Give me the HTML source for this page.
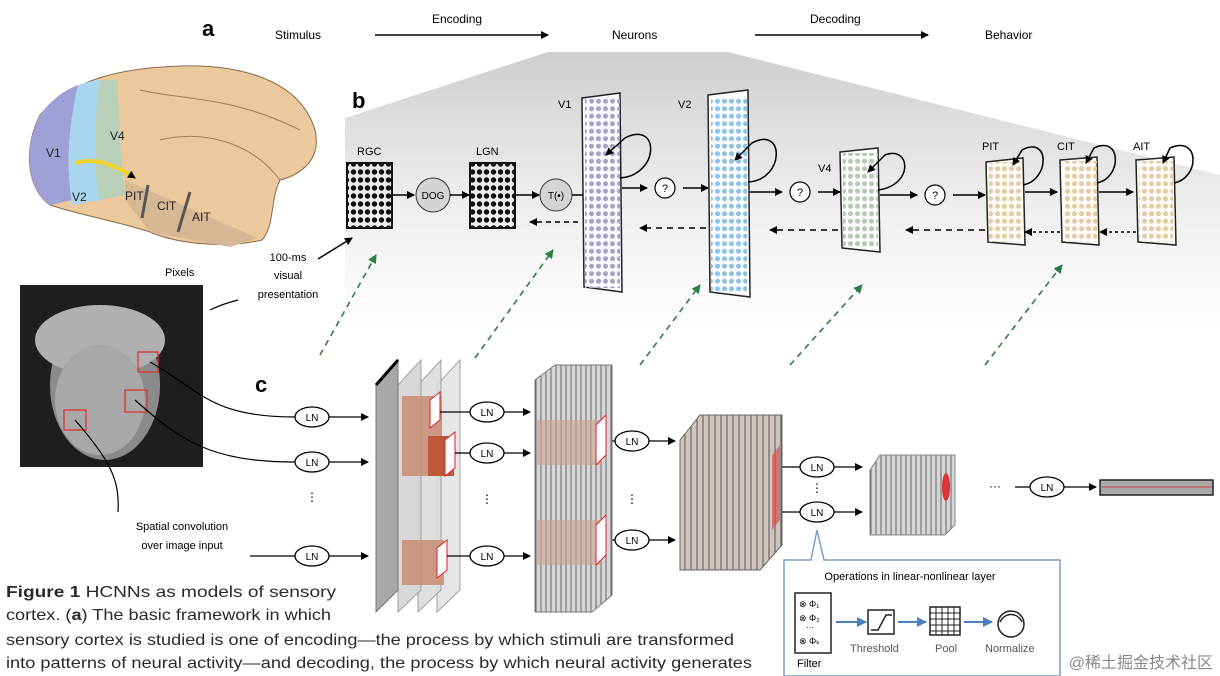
<!DOCTYPE html>
<html><head><meta charset="utf-8"><style>
html,body{margin:0;padding:0;background:#fff;}
svg{display:block;font-family:"Liberation Sans",Arial,sans-serif;}
</style></head><body>
<svg width="1220" height="676" viewBox="0 0 1220 676" xmlns="http://www.w3.org/2000/svg">
<defs>
<linearGradient id="wedge" x1="0" y1="0" x2="0" y2="1">
<stop offset="0" stop-color="#cfcfcf"/><stop offset="0.5" stop-color="#ececec"/><stop offset="1" stop-color="#ffffff"/></linearGradient>
<pattern id="dk" width="7" height="8" patternUnits="userSpaceOnUse"><circle cx="3.5" cy="4" r="2.7" fill="#111"/></pattern>
<pattern id="pv1" width="7" height="7.5" patternUnits="userSpaceOnUse"><circle cx="3.5" cy="3.7" r="2.5" fill="#a7a1cf"/></pattern>
<pattern id="pv2" width="7" height="7.5" patternUnits="userSpaceOnUse"><circle cx="3.5" cy="3.7" r="2.5" fill="#8cc3e6"/></pattern>
<pattern id="pv4" width="7" height="7.5" patternUnits="userSpaceOnUse"><circle cx="3.5" cy="3.7" r="2.5" fill="#b5c9b3"/></pattern>
<pattern id="pit" width="7" height="7.5" patternUnits="userSpaceOnUse"><circle cx="3.5" cy="3.7" r="2.5" fill="#e2cba6"/></pattern>
<pattern id="str" width="5" height="10" patternUnits="userSpaceOnUse"><rect width="5" height="10" fill="#d6d6d6"/><line x1="1" y1="0" x2="1" y2="10" stroke="#666" stroke-width="1"/></pattern>
<pattern id="str2" width="6" height="10" patternUnits="userSpaceOnUse"><rect width="6" height="10" fill="#cfc4c0"/><line x1="1" y1="0" x2="1" y2="10" stroke="#555" stroke-width="1"/></pattern>
<marker id="ah" markerWidth="8" markerHeight="8" refX="7" refY="4" orient="auto" markerUnits="userSpaceOnUse"><path d="M0,0 L8,4 L0,8 z" fill="#000"/></marker>
<marker id="ahg" markerWidth="9" markerHeight="9" refX="8" refY="4.5" orient="auto" markerUnits="userSpaceOnUse"><path d="M0,0 L9,4.5 L0,9 z" fill="#2e7d45"/></marker>
<marker id="ahb" markerWidth="10" markerHeight="10" refX="9" refY="5" orient="auto" markerUnits="userSpaceOnUse"><path d="M0,0 L10,5 L0,10 z" fill="#4a7fc0"/></marker>
</defs>

<text x="202" y="36" font-size="22" font-weight="bold">a</text>
<text x="275" y="39" font-size="12">Stimulus</text>
<text x="432" y="23" font-size="12">Encoding</text>
<line x1="375" y1="35" x2="548" y2="35" stroke="#000" stroke-width="1.5" marker-end="url(#ah)"/>
<text x="612" y="39" font-size="12">Neurons</text>
<text x="810" y="23" font-size="12">Decoding</text>
<line x1="755" y1="35" x2="928" y2="35" stroke="#000" stroke-width="1.5" marker-end="url(#ah)"/>
<text x="985" y="39" font-size="12">Behavior</text>

<polygon points="548,52 728,52 1220,175 1220,330 345,330 345,118" fill="url(#wedge)"/>

<path d="M40,115 C70,80 120,68 180,66 C240,64 300,80 315,130 C322,160 300,175 280,180 C270,200 275,225 262,240 C230,248 180,245 150,232 C120,222 80,215 50,205 C28,190 22,150 40,115 z" fill="#ecc99c" stroke="#8a6a48" stroke-width="1"/>
<path d="M40,115 C55,95 70,88 78,85 C70,120 65,160 72,200 L50,205 C28,190 22,150 40,115 z" fill="#9fa0d6"/>
<path d="M78,85 C92,80 100,80 100,80 C95,120 92,160 100,200 L72,205 C65,160 70,120 78,85 z" fill="#a9d6ef"/>
<path d="M100,80 L118,80 C118,110 120,150 125,195 L100,200 C92,160 95,120 100,80 z" fill="#b8d0b8"/>
<path d="M125,180 L258,238 L230,247 L150,232 L125,200 z" fill="#d7b894"/>
<line x1="148" y1="185" x2="142" y2="218" stroke="#555" stroke-width="3"/>
<line x1="190" y1="192" x2="178" y2="232" stroke="#555" stroke-width="3"/>
<path d="M140,90 C180,100 230,95 300,130 M160,140 C200,130 250,140 280,180" stroke="#a07d58" fill="none"/>
<path d="M75,163 C95,157 115,165 135,178" stroke="#f2d22c" stroke-width="4" fill="none" marker-end="url(#ah)"/>
<text x="46" y="157" font-size="12" fill="#222">V1</text>
<text x="72" y="201" font-size="12" fill="#222">V2</text>
<text x="110" y="140" font-size="12" fill="#222">V4</text>
<text x="125" y="200" font-size="12" fill="#222">PIT</text>
<text x="157" y="210" font-size="12" fill="#222">CIT</text>
<text x="192" y="221" font-size="12" fill="#222">AIT</text>

<text x="352" y="108" font-size="22" font-weight="bold">b</text>
<text x="357" y="155" font-size="11">RGC</text>
<rect x="347" y="163" width="45" height="65" fill="url(#dk)" stroke="#111" stroke-width="2"/>
<line x1="392" y1="195" x2="414" y2="195" stroke="#000" stroke-width="1.5" marker-end="url(#ah)"/>
<circle cx="433" cy="195" r="17" fill="#d4d4d4" stroke="#333"/><text x="433" y="199" font-size="10" text-anchor="middle">DOG</text>
<line x1="450" y1="195" x2="469" y2="195" stroke="#000" stroke-width="1.5" marker-end="url(#ah)"/>
<text x="476" y="155" font-size="11">LGN</text>
<rect x="470" y="163" width="45" height="65" fill="url(#dk)" stroke="#111" stroke-width="2"/>
<line x1="515" y1="195" x2="539" y2="195" stroke="#000" stroke-width="1.5" marker-end="url(#ah)"/>
<circle cx="556" cy="195" r="16" fill="#d4d4d4" stroke="#333"/><text x="556" y="199" font-size="10" text-anchor="middle">T(•)</text>
<line x1="572" y1="195" x2="596" y2="195" stroke="#000" stroke-width="1.5" marker-end="url(#ah)"/>
<line x1="578" y1="222" x2="530" y2="222" stroke="#000" stroke-width="1.5" stroke-dasharray="5,4" marker-end="url(#ah)"/>

<text x="558" y="108" font-size="11">V1</text>
<polygon points="582,98 620,93 622,292 584,287" fill="#fbfbfd" stroke="#222" stroke-width="1.5"/>
<rect x="585" y="98" width="35" height="190" fill="url(#pv1)"/>
<text x="678" y="108" font-size="11">V2</text>
<polygon points="708,95 748,90 750,297 710,292" fill="#fbfdff" stroke="#222" stroke-width="1.5"/>
<rect x="711" y="96" width="36" height="196" fill="url(#pv2)"/>
<text x="818" y="172" font-size="11">V4</text>
<polygon points="840,152 878,148 880,252 842,248" fill="#fbfcfb" stroke="#222" stroke-width="1.5"/>
<rect x="843" y="153" width="35" height="95" fill="url(#pv4)"/>
<text x="982" y="150" font-size="11">PIT</text>
<polygon points="986,162 1023,158 1025,245 988,242" fill="#fffcf7" stroke="#222" stroke-width="1.5"/>
<rect x="989" y="162" width="34" height="80" fill="url(#pit)"/>
<text x="1057" y="150" font-size="11">CIT</text>
<polygon points="1060,160 1097,157 1099,245 1062,242" fill="#fffcf7" stroke="#222" stroke-width="1.5"/>
<rect x="1063" y="161" width="34" height="81" fill="url(#pit)"/>
<text x="1133" y="150" font-size="11">AIT</text>
<polygon points="1136,160 1174,157 1176,245 1138,242" fill="#fffcf7" stroke="#222" stroke-width="1.5"/>
<rect x="1139" y="161" width="34" height="81" fill="url(#pit)"/>
<g fill="none" stroke="#000" stroke-width="1.5">
<path d="M620,178 C660,175 660,120 625,138 L606,155" marker-end="url(#ah)"/>
<path d="M748,182 C785,180 785,125 752,143 L735,160" marker-end="url(#ah)"/>
<path d="M878,190 C915,185 910,145 885,155 L868,172" marker-end="url(#ah)"/>
<path d="M1023,185 C1050,180 1050,135 1022,150 L1013,165" marker-end="url(#ah)"/>
<path d="M1097,183 C1122,178 1122,135 1094,148 L1086,163" marker-end="url(#ah)"/>
<path d="M1174,183 C1200,178 1200,135 1170,148 L1163,163" marker-end="url(#ah)"/>
</g>
<g stroke="#000" stroke-width="1.5">
<line x1="622" y1="188" x2="647" y2="188" marker-end="url(#ah)"/>
<line x1="683" y1="188" x2="708" y2="188" marker-end="url(#ah)"/>
<line x1="750" y1="192" x2="782" y2="192" marker-end="url(#ah)"/>
<line x1="818" y1="192" x2="840" y2="192" marker-end="url(#ah)"/>
<line x1="880" y1="195" x2="917" y2="195" marker-end="url(#ah)"/>
<line x1="953" y1="195" x2="985" y2="195" marker-end="url(#ah)"/>
<line x1="1025" y1="192" x2="1057" y2="192" marker-end="url(#ah)"/>
<line x1="1099" y1="192" x2="1133" y2="192" marker-end="url(#ah)"/>
</g>
<g fill="#fff" stroke="#000" stroke-width="1.2">
<circle cx="665" cy="188" r="10"/><circle cx="800" cy="192" r="10"/><circle cx="935" cy="195" r="10"/>
</g>
<g font-size="11" text-anchor="middle"><text x="665" y="192">?</text><text x="800" y="196">?</text><text x="935" y="199">?</text></g>
<g stroke="#000" stroke-width="1.5" stroke-dasharray="6,5">
<line x1="706" y1="228" x2="640" y2="228" marker-end="url(#ah)"/>
<line x1="838" y1="230" x2="770" y2="230" marker-end="url(#ah)"/>
<line x1="985" y1="230" x2="906" y2="230" marker-end="url(#ah)"/>
<line x1="1060" y1="232" x2="1025" y2="232" stroke-dasharray="3,3" marker-end="url(#ah)"/>
<line x1="1136" y1="232" x2="1100" y2="232" stroke-dasharray="3,3" marker-end="url(#ah)"/>
</g>
<g stroke="#2e7d45" stroke-width="1.6" stroke-dasharray="6,5">
<line x1="320" y1="355" x2="376" y2="255" marker-end="url(#ahg)"/>
<line x1="475" y1="358" x2="553" y2="250" marker-end="url(#ahg)"/>
<line x1="640" y1="365" x2="700" y2="285" marker-end="url(#ahg)"/>
<line x1="790" y1="365" x2="862" y2="285" marker-end="url(#ahg)"/>
<line x1="985" y1="365" x2="1062" y2="265" marker-end="url(#ahg)"/>
</g>

<text x="288" y="261" font-size="11" text-anchor="middle">100-ms</text>
<text x="288" y="279" font-size="11" text-anchor="middle">visual</text>
<text x="288" y="298" font-size="11" text-anchor="middle">presentation</text>
<line x1="318" y1="259" x2="352" y2="238" stroke="#000" stroke-width="1.5" marker-end="url(#ah)"/>
<text x="165" y="276" font-size="11">Pixels</text>
<path d="M210,310 C220,305 230,302 238,300" stroke="#000" fill="none" stroke-width="1.2"/>
<rect x="20" y="285" width="183" height="182" fill="#1e1e1e"/>
<ellipse cx="105" cy="385" rx="55" ry="75" fill="#8a8a8a"/>
<ellipse cx="100" cy="340" rx="65" ry="35" fill="#b0b0b0"/>
<ellipse cx="100" cy="400" rx="45" ry="55" fill="#a8a8a8"/>
<rect x="138" y="352" width="20" height="20" fill="none" stroke="#d33" stroke-width="1.3"/>
<rect x="125" y="390" width="22" height="22" fill="none" stroke="#d33" stroke-width="1.3"/>
<rect x="64" y="410" width="22" height="20" fill="none" stroke="#d33" stroke-width="1.3"/>
<text x="255" y="392" font-size="22" font-weight="bold">c</text>
<g fill="none" stroke="#000" stroke-width="1.2">
<path d="M150,362 C200,390 210,417 295,417"/>
<path d="M135,400 C180,440 210,462 295,462"/>
<path d="M75,420 C110,460 120,480 118,512"/>
</g>
<text x="182" y="530" font-size="11" text-anchor="middle">Spatial convolution</text>
<text x="182" y="549" font-size="11" text-anchor="middle">over image input</text>
<line x1="250" y1="556" x2="295" y2="556" stroke="#000" stroke-width="1.2"/>
<text x="312" y="501" font-size="12" text-anchor="middle">⋮</text>

<polygon points="437,385 460,360 460,590 437,612" fill="#e4e4e4" stroke="#999" opacity="0.9"/>
<polygon points="418,385 441,360 441,590 418,612" fill="#dcdcdc" stroke="#999" opacity="0.9"/>
<polygon points="398,385 421,360 421,590 398,612" fill="#d4d4d4" stroke="#999" opacity="0.9"/>
<polygon points="376,385 398,360 398,590 376,612" fill="#a8a8a8" stroke="#777"/>
<line x1="376" y1="385" x2="398" y2="360" stroke="#000" stroke-width="3"/>
<rect x="402" y="396" width="40" height="80" fill="#c9907a" opacity="0.9"/>
<rect x="428" y="436" width="26" height="40" fill="#c0563a"/>
<rect x="402" y="540" width="42" height="45" fill="#c9907a" opacity="0.9"/>
<polygon points="430,400 440,392 440,420 430,428" fill="#fff" stroke="#d22"/>
<polygon points="445,440 455,432 455,468 445,476" fill="#fff" stroke="#d22"/>
<polygon points="437,548 447,540 447,570 437,578" fill="#fff" stroke="#d22"/>
<g stroke="#000" stroke-width="1.3">
<line x1="329" y1="417" x2="368" y2="417" marker-end="url(#ah)"/>
<line x1="329" y1="462" x2="368" y2="462" marker-end="url(#ah)"/>
<line x1="329" y1="556" x2="368" y2="556" marker-end="url(#ah)"/>
<line x1="440" y1="412" x2="470" y2="412"/><line x1="504" y1="412" x2="530" y2="412" marker-end="url(#ah)"/>
<line x1="455" y1="453" x2="470" y2="453"/><line x1="504" y1="453" x2="530" y2="453" marker-end="url(#ah)"/>
<line x1="447" y1="556" x2="470" y2="556"/><line x1="504" y1="556" x2="530" y2="556" marker-end="url(#ah)"/>
<line x1="600" y1="441" x2="615" y2="441"/><line x1="649" y1="441" x2="675" y2="441" marker-end="url(#ah)"/>
<line x1="600" y1="540" x2="615" y2="540"/><line x1="649" y1="540" x2="675" y2="540" marker-end="url(#ah)"/>
<line x1="780" y1="467" x2="800" y2="467"/><line x1="834" y1="467" x2="862" y2="467" marker-end="url(#ah)"/>
<line x1="780" y1="512" x2="800" y2="512"/><line x1="834" y1="512" x2="862" y2="512" marker-end="url(#ah)"/>
<line x1="1015" y1="487" x2="1030" y2="487"/><line x1="1064" y1="487" x2="1096" y2="487" marker-end="url(#ah)"/>
</g>
<g fill="#fff" stroke="#000" stroke-width="1.3">
<ellipse cx="312" cy="417" rx="17" ry="10"/><ellipse cx="312" cy="462" rx="17" ry="10"/><ellipse cx="312" cy="556" rx="17" ry="10"/>
<ellipse cx="487" cy="412" rx="17" ry="10"/><ellipse cx="487" cy="453" rx="17" ry="10"/><ellipse cx="487" cy="556" rx="17" ry="10"/>
<ellipse cx="632" cy="441" rx="17" ry="10"/><ellipse cx="632" cy="540" rx="17" ry="10"/>
<ellipse cx="817" cy="467" rx="17" ry="10"/><ellipse cx="817" cy="512" rx="17" ry="10"/>
<ellipse cx="1047" cy="487" rx="17" ry="10"/>
</g>
<g font-size="10" text-anchor="middle">
<text x="312" y="421">LN</text><text x="312" y="466">LN</text><text x="312" y="560">LN</text>
<text x="487" y="416">LN</text><text x="487" y="457">LN</text><text x="487" y="560">LN</text>
<text x="632" y="445">LN</text><text x="632" y="544">LN</text>
<text x="817" y="471">LN</text><text x="817" y="516">LN</text><text x="1047" y="491">LN</text>
</g>
<g font-size="12" text-anchor="middle"><text x="487" y="503">⋮</text><text x="632" y="503">⋮</text><text x="817" y="492">⋮</text><text x="995" y="490">···</text></g>

<polygon points="535,380 555,365 612,365 612,595 592,612 535,612" fill="url(#str)" stroke="#777"/>
<rect x="537" y="420" width="65" height="45" fill="#c8a090" opacity="0.6"/>
<rect x="537" y="520" width="65" height="45" fill="#c8a090" opacity="0.6"/>
<polygon points="596,425 606,415 606,455 596,465" fill="#fff" stroke="#d22"/>
<polygon points="596,525 606,515 606,555 596,565" fill="#fff" stroke="#d22"/>
<polygon points="680,440 700,415 782,415 782,545 760,570 680,570" fill="url(#str2)" stroke="#666"/>
<polygon points="772,455 780,445 780,520 772,530" fill="#d95050" opacity="0.7"/>
<polygon points="870,470 880,455 955,455 955,525 945,535 870,535" fill="url(#str)" stroke="#888"/>
<ellipse cx="946" cy="487" rx="4" ry="14" fill="#d33"/>
<rect x="1100" y="480" width="113" height="15" fill="#aaa" stroke="#222" stroke-width="1.5"/>
<line x1="1101" y1="487" x2="1212" y2="487" stroke="#c44" stroke-width="1"/>

<path d="M784,560 L811,560 L817,530 L824,560 L1060,560 L1060,676 L784,676 z" fill="#fff" stroke="#7a9cc8" stroke-width="1.5"/>
<text x="910" y="580" font-size="11" text-anchor="middle">Operations in linear-nonlinear layer</text>
<rect x="795" y="593" width="36" height="60" fill="#fff" stroke="#222" stroke-width="1.5"/>
<text x="799" y="607" font-size="9">⊗ Φ₁</text><text x="799" y="621" font-size="9">⊗ Φ₂</text><text x="806" y="630" font-size="8">···</text><text x="799" y="644" font-size="9">⊗ Φₖ</text>
<text x="797" y="667" font-size="11">Filter</text>
<line x1="836" y1="622" x2="866" y2="622" stroke="#4a7fc0" stroke-width="2" marker-end="url(#ahb)"/>
<rect x="868" y="610" width="26" height="24" fill="#fff" stroke="#222" stroke-width="1.5"/>
<path d="M871,630 L878,630 L886,615 L892,615" stroke="#222" fill="none" stroke-width="1.5"/>
<line x1="898" y1="622" x2="926" y2="622" stroke="#4a7fc0" stroke-width="2" marker-end="url(#ahb)"/>
<rect x="930" y="607" width="30" height="28" fill="#fff" stroke="#222" stroke-width="1.5"/>
<g stroke="#222" stroke-width="1"><line x1="936" y1="607" x2="936" y2="635"/><line x1="942" y1="607" x2="942" y2="635"/><line x1="948" y1="607" x2="948" y2="635"/><line x1="954" y1="607" x2="954" y2="635"/><line x1="930" y1="613" x2="960" y2="613"/><line x1="930" y1="619" x2="960" y2="619"/><line x1="930" y1="625" x2="960" y2="625"/><line x1="930" y1="631" x2="960" y2="631"/></g>
<line x1="964" y1="622" x2="992" y2="622" stroke="#4a7fc0" stroke-width="2" marker-end="url(#ahb)"/>
<circle cx="1011" cy="624" r="13" fill="#fff" stroke="#222" stroke-width="1.5"/>
<path d="M1000,622 C1005,612 1017,612 1022,622" stroke="#222" fill="none" stroke-width="1.5"/>
<text x="850" y="652" font-size="11" fill="#555">Threshold</text>
<text x="935" y="652" font-size="11" fill="#555">Pool</text>
<text x="985" y="652" font-size="11" fill="#555">Normalize</text>

<g font-size="16" fill="#2a2a2a">
<text x="6" y="597" textLength="330" lengthAdjust="spacingAndGlyphs"><tspan font-weight="bold">Figure 1</tspan>  HCNNs as models of sensory</text>
<text x="6" y="620" textLength="325" lengthAdjust="spacingAndGlyphs">cortex. (<tspan font-weight="bold">a</tspan>) The basic framework in which</text>
<text x="6" y="645" textLength="728" lengthAdjust="spacingAndGlyphs">sensory cortex is studied is one of encoding—the process by which stimuli are transformed</text>
<text x="6" y="668" textLength="746" lengthAdjust="spacingAndGlyphs">into patterns of neural activity—and decoding, the process by which neural activity generates</text>
</g>
<text x="1213" y="668" font-size="16" fill="#888" text-anchor="end" font-family="'Liberation Sans','Noto Sans CJK SC',sans-serif">@稀土掘金技术社区</text>
</svg>
</body></html>
